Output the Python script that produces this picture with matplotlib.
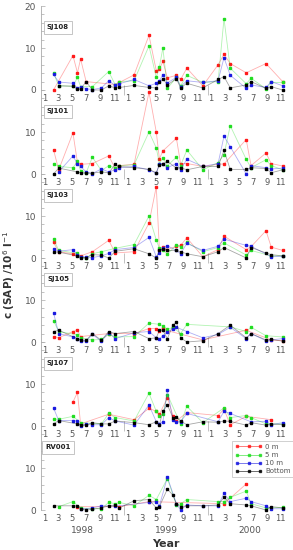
import numpy as np
import matplotlib
matplotlib.use("Agg")
import matplotlib.pyplot as plt
from matplotlib.ticker import MultipleLocator, FixedLocator

N = None

# sampling dates, months since 1 Jan 1998
dates = [1.8, 2.55, 4.6, 5.25, 5.7, 6.5, 7.4, 8.7, 9.75, 10.7, 11.3, 13.4, 15.55, 16.6, 17.05,
         17.55, 18.2, 19.0, 19.5, 20.1, 21.0, 23.3, 25.5, 26.35, 27.25, 29.55, 30.25, 32.4, 33.15, 34.8]

stations = ["SJ108", "SJ101", "SJ103", "SJ105", "SJ107", "RV001"]
depths = ["0 m", "5 m", "10 m", "Bottom"]

sj108_0m = [0.0, N, 8.2, 4.1, 7.4, 2.0, N, N, N, 1.3, 1.8, 3.6, 13.0, 4.6, 5.0, 6.8, 2.9, N, 3.5, 2.5, 5.2, 1.0, 6.0, 8.5, 6.3, 4.1, N, 6.3, N, 2.0]
sj108_5m = [4.1, 1.0, 0.9, 3.0, 0.8, N, 0.8, N, 4.4, 1.2, 2.0, 2.2, 10.5, 3.0, 5.5, 10.0, 0.4, N, 3.0, 1.0, 3.5, 1.8, 2.0, 17.0, 5.2, 1.5, 2.8, 0.3, 1.8, 1.8]
sj108_10m = [3.7, 1.9, 1.6, 0.4, 0.8, 0.3, 0.1, 0.5, 2.2, 1.1, 1.5, 2.5, 1.0, 1.6, 2.2, 3.6, 1.7, N, 3.0, 0.8, 2.2, 1.8, 2.2, 7.7, 3.5, 0.4, 1.2, 0.6, 2.0, 1.0]
sj108_bot = [N, 1.0, 0.9, 0.2, 0.2, 2.0, 0.0, 0.0, 1.0, 0.5, 0.6, 1.1, 0.6, 0.5, 1.8, 2.7, 1.2, N, 2.7, 0.5, 1.6, 0.5, 2.5, 3.2, 0.5, 1.2, 2.0, 0.4, 0.8, 0.0]

sj101_0m = [5.8, 1.0, 9.8, 2.7, 2.3, N, 2.5, N, 4.3, 1.3, 2.0, 2.3, 19.5, 10.0, 3.6, 5.5, N, N, 8.5, 2.5, 2.5, 1.8, 2.3, 2.4, N, 8.2, 2.0, 5.0, 2.5, 1.9]
sj101_5m = [2.5, 1.8, 1.5, 3.0, 0.8, 0.3, 4.0, 0.8, 2.0, 1.5, 2.0, 2.2, 10.0, 6.2, 2.5, 3.8, 2.0, N, 4.0, 2.0, 5.7, 1.0, 2.7, 4.6, 11.5, 3.5, 1.5, 3.4, 2.0, 1.0]
sj101_10m = [N, 0.5, 4.3, 2.4, 1.8, 0.5, 0.1, 1.2, 0.5, 1.0, 1.5, 1.8, 1.0, 0.2, 2.4, 2.5, 1.5, N, 2.5, 1.0, 3.5, 1.8, 2.5, 9.0, 6.5, 0.0, 2.0, 1.5, 1.2, 1.4]
sj101_bot = [0.0, 1.4, N, 0.5, 0.3, 0.2, 0.2, 0.5, 0.3, 2.3, 1.8, 1.5, 1.1, 0.3, 2.2, 2.4, 3.0, N, 1.4, 1.5, 1.0, 1.8, 1.8, 5.6, 1.1, 1.1, 1.5, 1.3, 0.3, 1.0]

sj103_0m = [3.7, 1.5, 1.0, 0.8, 0.5, N, 1.5, N, 4.2, 1.2, N, 1.5, 8.3, 17.0, 2.0, 2.7, 2.0, N, 2.8, 3.0, 4.8, 0.3, 2.0, 5.2, N, 2.0, 2.7, 6.5, 2.6, 1.8]
sj103_5m = [4.6, 1.8, N, 1.1, 0.2, 0.0, 1.0, 1.5, N, 2.3, N, 3.2, 10.0, 4.3, 2.3, 1.8, 1.0, N, 3.0, 2.7, 3.7, 1.5, 2.5, 3.6, N, 0.7, 1.8, N, 0.5, 0.5]
sj103_10m = [2.2, 1.6, 2.0, 0.7, 0.3, 0.2, 0.1, 0.5, 1.1, 2.0, N, 2.5, 4.9, 0.3, 1.2, 2.5, 2.9, N, 1.8, 1.0, 3.5, 1.8, 2.8, 4.5, N, 3.0, 2.8, N, 0.3, 0.4]
sj103_bot = [1.5, 1.4, N, 0.5, 0.0, 0.1, 0.8, 0.7, 0.0, 1.6, N, 2.2, 1.0, 0.0, 1.8, 2.2, 1.8, N, 1.8, 1.5, 1.0, 0.3, 1.5, 2.5, N, 0.0, 2.5, 1.2, 0.8, 0.5]

sj105_0m = [1.3, 1.0, 2.5, 2.8, 1.3, N, N, N, 2.0, N, N, 2.0, 3.2, 3.2, 2.7, 3.3, 2.7, N, N, N, N, 0.5, N, N, N, 2.8, N, N, 0.5, 0.3]
sj105_5m = [5.1, 2.5, N, 1.7, 1.0, N, 0.5, 0.6, 1.8, 1.2, N, 1.3, 4.5, N, 4.2, 3.8, 3.0, 3.5, N, 2.0, 4.2, N, N, N, 3.6, 2.5, 3.5, 1.5, N, 1.2]
sj105_10m = [7.0, 2.0, 1.2, 0.8, 0.3, 0.2, 1.8, 0.2, 2.2, 0.8, N, 2.2, 2.5, 1.0, 0.7, 1.5, 2.5, 3.0, 3.5, N, 2.5, 1.0, 1.8, N, 3.5, 0.8, 2.0, 0.3, 0.5, 0.8]
sj105_bot = [2.5, 2.8, N, 0.8, 0.5, 0.4, 2.0, 0.4, 2.5, 2.0, N, 2.5, 0.8, 1.0, 2.8, 2.8, 0.8, 4.0, 4.8, 1.0, 0.0, 0.3, 2.0, N, 4.0, 1.0, 2.0, 0.5, 0.6, 0.2]

sj107_0m = [N, N, 5.7, 8.0, 0.5, N, N, N, 2.8, N, N, 1.5, 4.2, 3.5, 2.8, N, 6.7, 2.5, 1.2, N, 3.2, N, 2.5, 4.0, 0.3, 2.3, N, N, 1.5, N]
sj107_5m = [1.6, 1.6, 2.3, N, 0.8, N, N, 0.5, 3.0, 2.0, N, 1.2, 7.8, 3.5, 2.5, 2.8, 7.5, N, N, 0.5, 4.7, 0.8, N, 4.3, 2.0, 2.5, 2.0, 0.5, N, 0.5]
sj107_10m = [4.3, 1.3, 1.3, 1.2, 0.0, 0.5, 0.3, 0.3, 2.0, 1.2, N, 0.2, 5.0, 1.0, 0.5, 1.0, 8.5, 1.5, 1.0, 1.0, 3.0, N, 1.0, 3.5, 3.0, N, 1.0, 1.1, 0.3, 0.8]
sj107_bot = [0.5, 1.3, N, 0.5, 0.2, 0.2, 0.8, 0.5, 0.5, 1.2, N, 0.8, 0.3, 1.0, 0.3, 3.5, 5.0, 2.0, 2.2, 1.2, 0.3, 1.0, 0.9, 1.2, 1.1, 0.2, 0.8, 0.2, 0.5, 0.3]

rv001_0m = [N, N, N, 0.8, N, N, N, N, N, N, 0.8, N, 2.0, N, N, N, N, N, N, N, N, N, N, 1.5, N, 6.2, N, N, N, N]
rv001_5m = [N, 0.8, 2.0, N, 0.5, N, 0.3, 0.3, 1.8, 1.5, 1.8, 1.0, 3.5, 2.5, N, N, 7.5, N, 1.2, 1.5, 2.5, N, 2.0, 2.0, 3.0, 4.5, 1.5, 0.5, N, 0.6]
rv001_10m = [N, N, N, N, 0.2, N, 0.5, 1.0, N, 0.9, N, N, 1.8, 2.0, 1.0, N, 7.8, N, 1.5, 0.0, 1.2, 1.0, 1.0, 4.0, 2.0, 2.8, 2.0, 1.0, 0.3, 0.3]
rv001_bot = [1.0, N, 1.0, 1.0, 0.3, 0.0, 0.2, 0.5, 1.0, 1.2, 0.5, 2.2, 2.5, 0.5, 0.8, N, 5.0, 3.5, 1.5, 0.8, 1.0, 1.0, 1.2, 3.0, 1.5, 1.2, 1.0, 0.0, 0.8, 0.5]

data = {
    "SJ108": [sj108_0m, sj108_5m, sj108_10m, sj108_bot],
    "SJ101": [sj101_0m, sj101_5m, sj101_10m, sj101_bot],
    "SJ103": [sj103_0m, sj103_5m, sj103_10m, sj103_bot],
    "SJ105": [sj105_0m, sj105_5m, sj105_10m, sj105_bot],
    "SJ107": [sj107_0m, sj107_5m, sj107_10m, sj107_bot],
    "RV001": [rv001_0m, rv001_5m, rv001_10m, rv001_bot],
}

colors = ["#ff1a1a", "#22dd22", "#1a1ae0", "#000000"]
years = ["1998", "1999", "2000"]
month_labels = ["1", "3", "5", "7", "9", "11"] * 3
month_pos = [12 * y + m - 0.5 for y in range(3) for m in (1, 3, 5, 7, 9, 11)]

W, H = 293, 550
fig = plt.figure(figsize=(W / 100, H / 100), dpi=100)
grey = "#555555"

left, width = 41 / W, 250 / W
axes = []
for k, st in enumerate(stations):
    bottom = 1 - (90 + 84 * k) / H
    ax = fig.add_axes([left, bottom, width, 84 / H])
    axes.append(ax)
    for series, c, lab in zip(data[st], colors, depths):
        x = [d for d, v in zip(dates, series) if v is not None]
        y = [v for v in series if v is not None]
        ax.plot(x, y, color=c, lw=0.6, alpha=0.35, clip_on=False)
        ax.plot(x, y, ls="none", marker="s", ms=2.0, color=c, clip_on=False, label=lab)

    ax.set_xlim(0, 36)
    ax.set_ylim(0, 20)
    ax.patch.set_alpha(0)
    for s in ["top", "right", "bottom"]:
        ax.spines[s].set_visible(False)
    ax.spines["left"].set_color("#aaaaaa")
    ax.spines["left"].set_linewidth(0.6)

    ax.set_yticks([0, 10, 20] if k == 0 else [0, 10])
    ax.yaxis.set_minor_locator(MultipleLocator(2))
    ax.tick_params(axis="y", which="both", direction="in", colors="#aaaaaa",
                   labelcolor=grey, labelsize=6.5, length=3, width=0.5)
    ax.tick_params(axis="y", which="minor", length=1.8)

    ax.xaxis.set_major_locator(FixedLocator(month_pos))
    ax.set_xticklabels(month_labels)
    ax.xaxis.set_minor_locator(FixedLocator([12, 24]))
    ax.tick_params(axis="x", which="major", length=0, pad=3, labelsize=6, labelcolor=grey)
    ax.tick_params(axis="x", which="minor", length=7, width=0.5, direction="inout", color="#aaaaaa")

    ax.text(0.068, 0.745, st, transform=ax.transAxes, fontsize=5, fontweight="bold",
            ha="center", va="center", color="#222222",
            bbox=dict(boxstyle="square,pad=0.45", fc="white", ec="#bbbbbb", lw=0.6))

# legend in the last panel
leg_handles = []
for c, lab in zip(colors, depths):
    h, = axes[-1].plot([], [], color=c, lw=0.5, alpha=0.8, marker="s", ms=1.8, label=lab)
    leg_handles.append(h)
leg = axes[-1].legend(handles=leg_handles, loc="upper right", bbox_to_anchor=(1.01, 0.82),
                      fontsize=5, numpoints=3, handlelength=4.0, frameon=True,
                      fancybox=False, edgecolor="#bbbbbb", borderpad=0.4,
                      labelspacing=0.3, handletextpad=0.4, borderaxespad=0)
leg.get_frame().set_linewidth(0.6)
for t in leg.get_texts():
    t.set_color(grey)

# year labels under bottom panel
ax = axes[-1]
for i, yr in enumerate(years):
    ax.annotate(yr, xy=(12 * i + 6, 0), xycoords=("data", "axes fraction"),
                xytext=(0, -14.5), textcoords="offset points",
                ha="center", va="center", fontsize=6.5, color=grey)
ax.annotate("Year", xy=(18, 0), xycoords=("data", "axes fraction"),
            xytext=(0, -24.5), textcoords="offset points",
            ha="center", va="center", fontsize=8, fontweight="bold", color="#333333")

fig.text(0.03, 0.5, "c (SAP) /10$^{6}$ l$^{-1}$", rotation=90, ha="center", va="center",
         fontsize=7.5, fontweight="bold", color="#333333")

fig.savefig("out.png", dpi=100, facecolor="white")
